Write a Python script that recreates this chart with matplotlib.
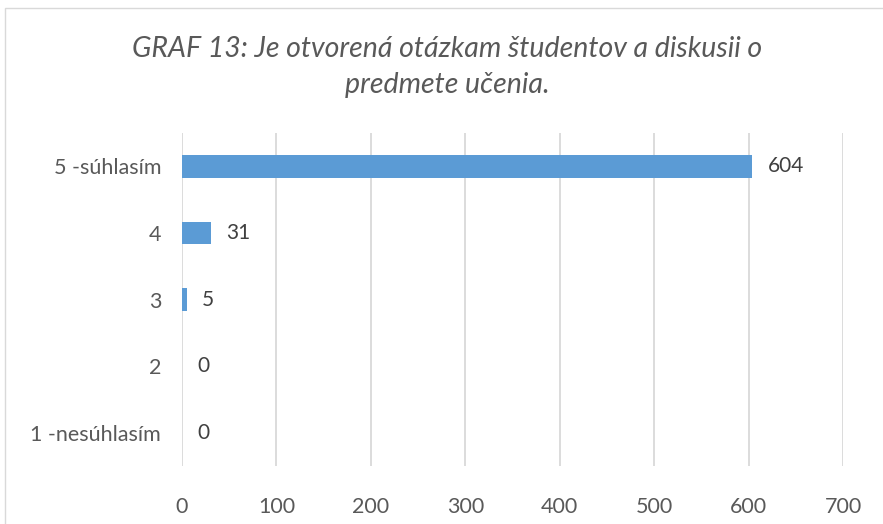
import matplotlib
matplotlib.use("Agg")
import matplotlib.pyplot as plt
from matplotlib.patches import Rectangle

categories = ["1 -nesúhlasím", "2", "3", "4", "5 -súhlasím"]
values = [0, 0, 5, 31, 604]
xticks = [0, 100, 200, 300, 400, 500, 600, 700]
title = "GRAF 13: Je otvorená otázkam študentov a diskusii o\npredmete učenia."

W, H = 883, 524
fig = plt.figure(figsize=(W / 100, H / 100), dpi=100)
fig.patch.set_facecolor("white")

# chart border
fig.patches.append(Rectangle((5 / W, -0.1), 1.2, 1 - 8 / H + 0.1, transform=fig.transFigure,
                             fill=False, edgecolor="#D9D9D9", linewidth=1.0))

ax = fig.add_axes([182 / W, 1 - 466 / H, (843 - 182) / W, (466 - 133) / H])
y = range(len(categories))
ax.barh(y, values, height=0.34, color="#5B9BD5", zorder=3)
ax.set_xlim(0, 700)
ax.set_ylim(-0.5, len(categories) - 0.5)
ax.set_xticks(xticks)
ax.set_xticklabels([str(t) for t in xticks])
ax.set_yticks(list(y))
ax.set_yticklabels(categories)
for s in ax.spines.values():
    s.set_visible(False)
ax.grid(axis="x", color="#D9D9D9", linewidth=1.3, zorder=0)
ax.tick_params(axis="both", length=0, labelsize=15.5, colors="#595959", labelcolor="#595959")
ax.tick_params(axis="x", pad=22)
ax.tick_params(axis="y", pad=15)
for lab in ax.get_xticklabels() + ax.get_yticklabels():
    lab.set_fontfamily("Lato")

for i, v in zip(y, values):
    ax.annotate(str(v), (v, i), xytext=(11, 0), textcoords="offset points",
                va="center", ha="left", fontsize=15, color="#404040", fontfamily="Lato")

fig.text(447 / W, 1 - 67 / H, title, ha="center", va="center", fontsize=20.5,
         fontstyle="italic", color="#595959", fontfamily="Lato", linespacing=1.45)

fig.savefig("out.png", dpi=100)
